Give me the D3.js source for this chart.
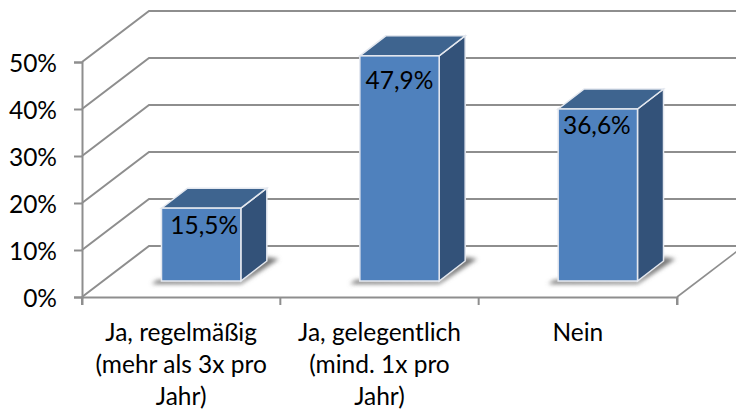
<!DOCTYPE html>
<html>
<head>
<meta charset="utf-8">
<script src="https://cdn.jsdelivr.net/npm/d3@7"></script>
<style>
  html, body { margin: 0; padding: 0; background: #fff; overflow: hidden; }
  text { font-family: Lato, "Open Sans", sans-serif; fill: #000; }
</style>
</head>
<body>
<svg id="chart" width="736" height="410"></svg>
<script>
const categories = ["Ja, regelmäßig", "Ja, gelegentlich", "Nein"];
const categoryLines = [
  ["Ja, regelmäßig", "(mehr als 3x pro", "Jahr)"],
  ["Ja, gelegentlich", "(mind. 1x pro", "Jahr)"],
  ["Nein"],
];
const values = [15.5, 47.9, 36.6];
const valueLabels = ["15,5%", "47,9%", "36,6%"];
const yTicks = [0, 10, 20, 30, 40, 50];

// layout
const axisLeft = 82, axisRight = 677, axisBottom = 297, axisTop = 62;
const wallDx = 67, wallDy = -51; // floor depth
const barShiftX = 20, barShiftY = -16; // bars stand partway into the floor
const barDx = 26, barDy = -20; // bar depth
const gridColor = "#8e8e8e";
const fontSize = "24.5px";
const labelDrop = [17, 24, 16];
const labelShift = [3, 0, -1];

const svg = d3.select("#chart");

const x = d3.scaleBand().domain(categories).range([axisLeft, axisRight]).paddingInner(0.6).paddingOuter(0.3);
const band = d3.scaleBand().domain(categories).range([axisLeft, axisRight]);
const y = d3.scaleLinear().domain([0, 50]).range([axisBottom, axisTop]);
const h = (d) => y(0) - y(d);

const defs = svg.append("defs");
defs.append("filter").attr("id", "shadow")
  .attr("x", "-20%").attr("y", "-20%").attr("width", "140%").attr("height", "140%")
  .append("feGaussianBlur").attr("stdDeviation", 2.2);

// walls and floor
const line = d3.line();
const grid = svg.append("g").attr("fill", "none").attr("stroke", gridColor).attr("stroke-width", 2);
grid.selectAll("path.grid")
  .data(yTicks)
  .join("path")
  .attr("class", "grid")
  .attr("d", (d) => line([
    [axisLeft, y(d)],
    [axisLeft + wallDx, y(d) + wallDy],
    [axisRight + wallDx, y(d) + wallDy],
  ]));
grid.append("path")
  .attr("stroke-width", 1.6)
  .attr("d", line([[axisRight, axisBottom], [axisRight + wallDx, axisBottom + wallDy]]));

// axes
const yAxis = svg.append("g")
  .attr("transform", `translate(${axisLeft},0)`)
  .call(d3.axisLeft(y).tickValues(yTicks).tickFormat((d) => d + "%").tickSize(8).tickPadding(17));
const xAxis = svg.append("g")
  .attr("transform", `translate(0,${axisBottom})`)
  .call(d3.axisBottom(band).tickValues([]).tickSizeOuter(8));
xAxis.selectAll("line")
  .data(d3.range(categories.length + 1))
  .join("line")
  .attr("x1", (i) => (i < categories.length ? band(categories[i]) : axisRight))
  .attr("x2", (i) => (i < categories.length ? band(categories[i]) : axisRight))
  .attr("y1", 0).attr("y2", 8);
[yAxis, xAxis].forEach((a) => {
  a.selectAll("path, line").attr("stroke", gridColor).attr("stroke-width", 2);
});
yAxis.selectAll("text").style("font-size", fontSize).attr("dy", "0.4em").attr("text-anchor", "end");

// category labels
svg.append("g").selectAll("text")
  .data(categories)
  .join("text")
  .attr("text-anchor", "middle")
  .style("font-size", fontSize)
  .each(function (d, i) {
    d3.select(this).selectAll("tspan")
      .data(categoryLines[i])
      .join("tspan")
      .attr("x", band(d) + band.bandwidth() / 2)
      .attr("y", (_, j) => 341 + j * 32)
      .text((t) => t);
  });

// bars
const bars = svg.append("g").selectAll("g")
  .data(categories)
  .join("g")
  .attr("transform", (d) => `translate(${x(d) + barShiftX},${y(0) + barShiftY})`);

const w = x.bandwidth();
const poly = (pts) => pts.map((p) => p.join(",")).join(" ");

// soft floor shadow
bars.append("polygon")
  .attr("points", poly([[-10, 3], [w, 3], [w + barDx + 12, barDy - 2], [w + barDx, barDy - 4], [w, 0], [-4, -1]]))
  .attr("fill", "#777")
  .attr("filter", "url(#shadow)");

bars.append("polygon")
  .attr("points", (d, i) => poly([[w, 0], [w, -h(values[i])], [w + barDx, -h(values[i]) + barDy], [w + barDx, barDy]]))
  .attr("fill", "#335279")
  .attr("stroke", "#e4e8ef").attr("stroke-width", 1.5);
bars.append("polygon")
  .attr("points", (d, i) => poly([[0, -h(values[i])], [w, -h(values[i])], [w + barDx, -h(values[i]) + barDy], [barDx, -h(values[i]) + barDy]]))
  .attr("fill", "#3e648f")
  .attr("stroke", "#e4e8ef").attr("stroke-width", 1.5);
bars.append("rect")
  .attr("x", 0)
  .attr("y", (d, i) => -h(values[i]))
  .attr("width", w)
  .attr("height", (d, i) => h(values[i]))
  .attr("fill", "#4f81bd")
  .attr("stroke", "#e4e8ef").attr("stroke-width", 1.5);

// value labels
bars.append("text")
  .attr("x", (d, i) => w / 2 + labelShift[i])
  .attr("y", (d, i) => -h(values[i]) + labelDrop[i])
  .attr("dy", "0.36em")
  .attr("text-anchor", "middle")
  .style("font-size", fontSize)
  .text((d, i) => valueLabels[i]);
</script>
</body>
</html>
